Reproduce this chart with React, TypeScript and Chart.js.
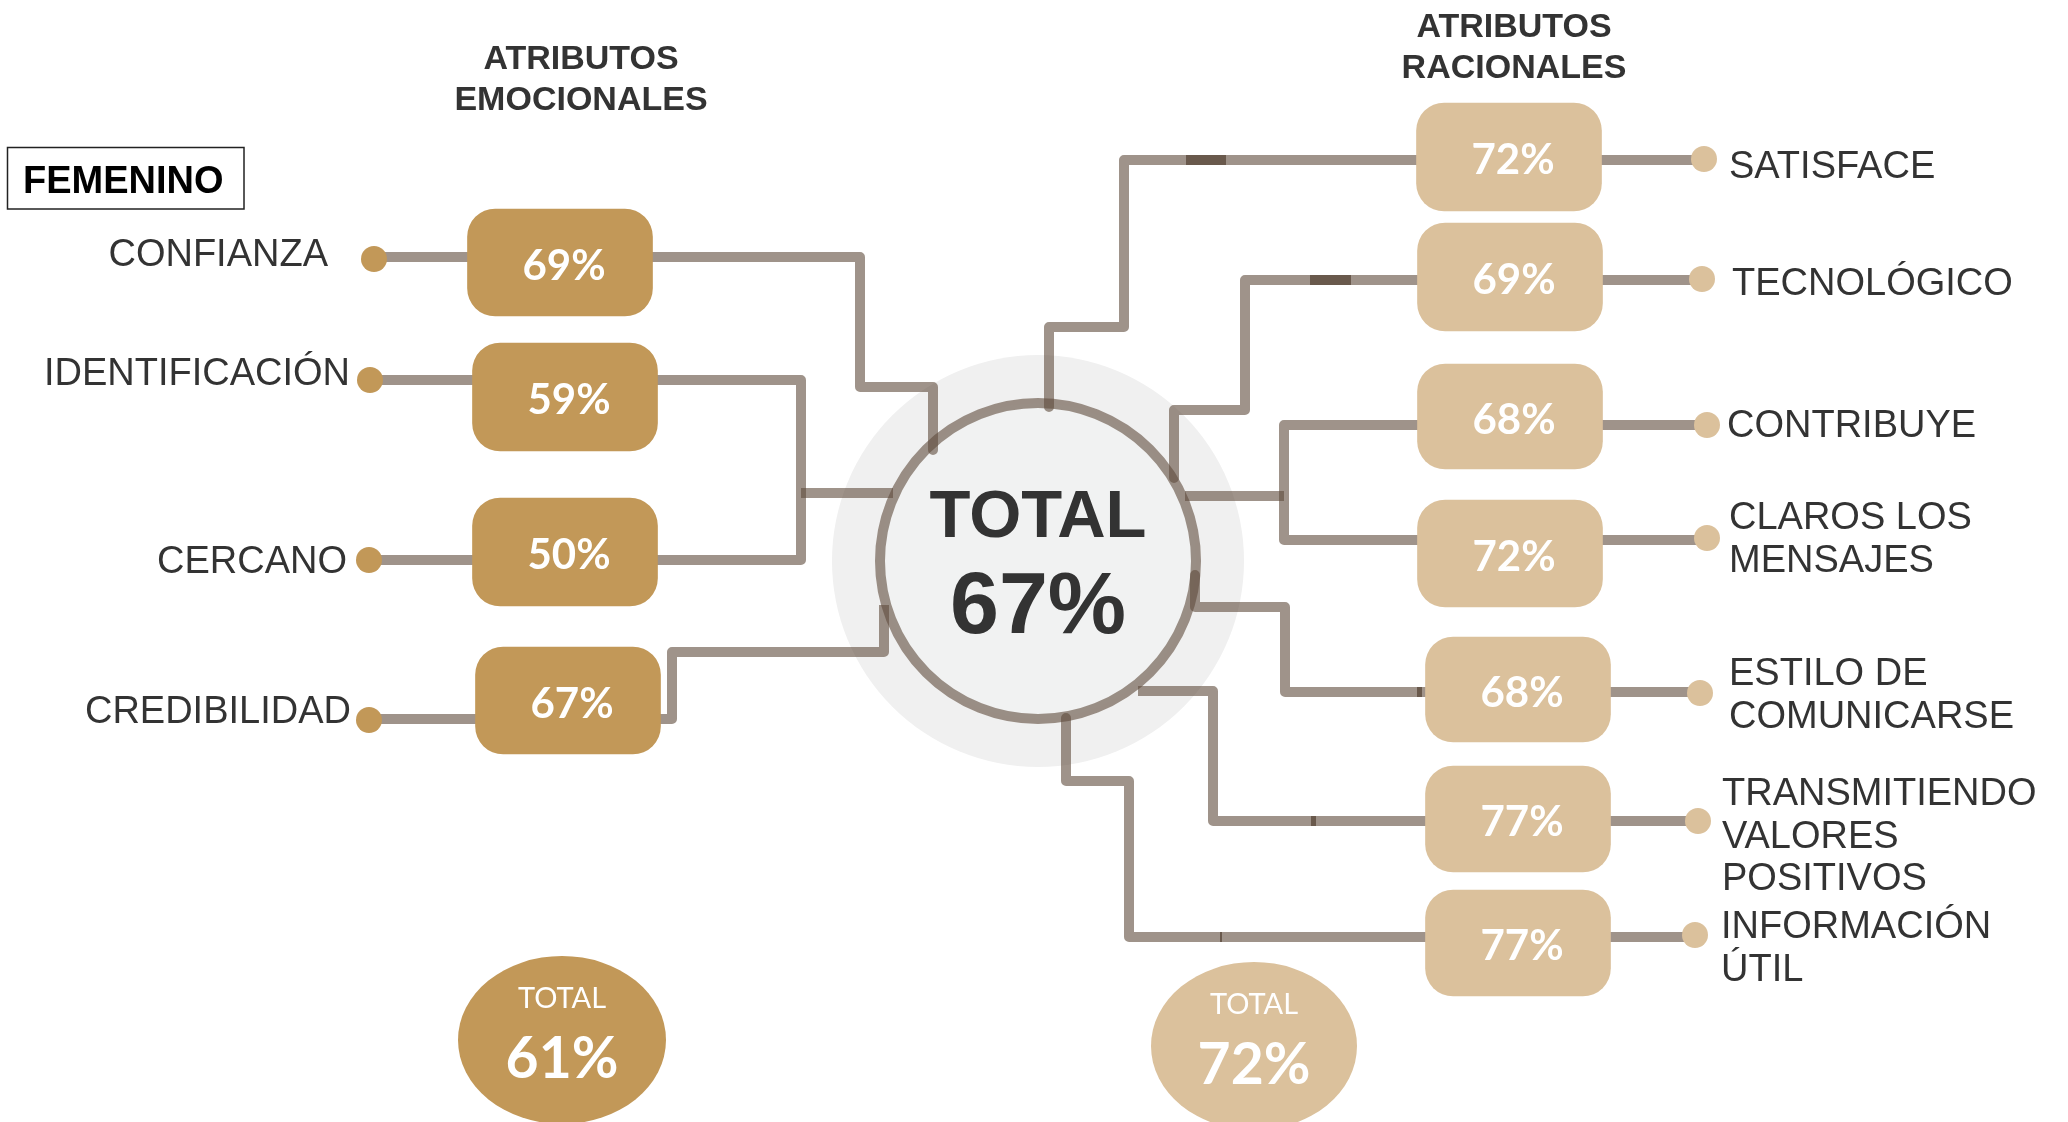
import React, { useEffect, useRef } from 'react';
import { Chart, registerables } from 'chart.js';

Chart.register(...registerables);

// ---------------- DATA ----------------
const segmentLabel = 'FEMENINO';
const emoTitle = ['ATRIBUTOS', 'EMOCIONALES'];
const ratTitle = ['ATRIBUTOS', 'RACIONALES'];
const totalLabel = 'TOTAL';

const emoLabels = [['CONFIANZA'], ['IDENTIFICACIÓN'], ['CERCANO'], ['CREDIBILIDAD']];
const emoValues = [69, 59, 50, 67];

const ratLabels = [
  ['SATISFACE'],
  ['TECNOLÓGICO'],
  ['CONTRIBUYE'],
  ['CLAROS LOS', 'MENSAJES'],
  ['ESTILO DE', 'COMUNICARSE'],
  ['TRANSMITIENDO', 'VALORES', 'POSITIVOS'],
  ['INFORMACIÓN', 'ÚTIL'],
];
const ratValues = [72, 69, 68, 72, 68, 77, 77];

const totalValue = 67;
const emoTotal = 61;
const ratTotal = 72;

// ---------------- LAYOUT (page units) ----------------
const W = 2068;
const H = 1122;

const EMO_COLOR = '#c29858';
const RAT_COLOR = '#dbc19c';
const LINE_COLOR = 'rgba(95,75,60,0.6)';
const PATCH_COLOR = 'rgba(70,50,35,0.6)';
const TEXT_COLOR = '#333333';

// box: centre x, top y, bottom y
const EMO_BOX = [[560, 209, 316], [565, 343, 451], [565, 498, 606], [568, 647, 754]];
const RAT_BOX = [[1509, 103, 211], [1510, 223, 331], [1510, 364, 469], [1510, 500, 607], [1518, 637, 742], [1518, 766, 872], [1518, 890, 996]];
const EMO_DOT = [[374, 259], [370, 380], [369, 560], [369, 720]];
const RAT_DOT = [[1704, 159], [1702, 279], [1707, 425], [1707, 538], [1700, 693], [1698, 821], [1695, 935]];
// label anchor: x (right edge for left side, left edge for right side), first baseline
const EMO_LABEL = [[328, 266], [350, 385], [347, 573], [351, 723]];
const RAT_LABEL = [[1729, 178], [1732, 295], [1727, 437], [1729, 529], [1729, 685], [1722, 805], [1721, 938]];
const LABEL_GAP = 42.5;

const CONNECTORS = [
  [[374, 257], [860, 257], [860, 387], [933, 387], [933, 450]],
  [[370, 380], [801, 380], [801, 560], [369, 560]],
  [[801, 493], [893, 493]],
  [[369, 719], [672, 719], [672, 652], [884, 652], [884, 605]],
  [[1704, 160], [1124, 160], [1124, 327], [1049, 327], [1049, 407]],
  [[1702, 280], [1245, 280], [1245, 410], [1174, 410], [1174, 478]],
  [[1707, 425], [1284, 425], [1284, 540], [1707, 540]],
  [[1185, 496], [1284, 496]],
  [[1195, 575], [1195, 607], [1285, 607], [1285, 692], [1700, 692]],
  [[1138, 691], [1213, 691], [1213, 821], [1698, 821]],
  [[1066, 718], [1066, 781], [1129, 781], [1129, 937], [1695, 937]],
];
const PATCHES = [
  [[1186, 160], [1226, 160]],
  [[1310, 280], [1351, 280]],
  [[1417, 692], [1422, 692]],
  [[1311, 821], [1316, 821]],
  [[1220, 937], [1222, 937]],
];

const CENTER = [1038, 561];
const EMO_ELL = [562, 1040, 104, 84];
const RAT_ELL = [1254, 1046, 103, 84];

const pt = ([x, y]: number[]) => ({ x, y });

const infoPlugin = {
  id: 'infoText',
  afterDatasetsDraw(chart: any) {
    const ctx: CanvasRenderingContext2D = chart.ctx;
    const sx = chart.scales.x;
    const sy = chart.scales.y;
    const X = (v: number) => sx.getPixelForValue(v);
    const Y = (v: number) => sy.getPixelForValue(v);
    ctx.save();

    // bottom total ellipses
    const ell = (e: number[], color: string, value: number) => {
      const cx = X(e[0]);
      const cy = Y(e[1]);
      const rx = Math.abs(X(e[0] + e[2]) - cx);
      const ry = Math.abs(Y(e[1] + e[3]) - cy);
      ctx.beginPath();
      ctx.ellipse(cx, cy, rx, ry, 0, 0, Math.PI * 2);
      ctx.fillStyle = color;
      ctx.fill();
      ctx.fillStyle = '#ffffff';
      ctx.textAlign = 'center';
      ctx.textBaseline = 'alphabetic';
      ctx.font = '29px Lato';
      ctx.fillText(totalLabel, cx, cy - 32);
      ctx.font = 'bold 57px Lato';
      ctx.fillText(value + '%', cx, cy + 38);
    };
    ell(EMO_ELL, EMO_COLOR, emoTotal);
    ell(RAT_ELL, RAT_COLOR, ratTotal);

    // percentages inside boxes (from bar elements)
    const barMeta = chart.getSortedVisibleDatasetMetas().find((m: any) => m.type === 'bar');
    const allValues = [...emoValues, ...ratValues];
    if (barMeta) {
      ctx.fillStyle = '#ffffff';
      ctx.textAlign = 'center';
      ctx.textBaseline = 'alphabetic';
      ctx.font = 'bold 42px Lato';
      barMeta.data.forEach((el: any, i: number) => {
        const cy = (el.y + el.base) / 2;
        ctx.fillText(allValues[i] + '%', el.x + 4, cy + 17);
      });
    }

    // centre total
    ctx.fillStyle = TEXT_COLOR;
    ctx.textAlign = 'center';
    ctx.font = 'bold 67px "Liberation Sans"';
    ctx.fillText(totalLabel, X(CENTER[0]), Y(537));
    ctx.font = 'bold 88px "Liberation Sans"';
    ctx.fillText(totalValue + '%', X(CENTER[0]), Y(633));

    // titles
    ctx.font = 'bold 34px "Liberation Sans"';
    ctx.fillText(emoTitle[0], X(581), Y(69));
    ctx.fillText(emoTitle[1], X(581), Y(110));
    ctx.fillText(ratTitle[0], X(1514), Y(37));
    ctx.fillText(ratTitle[1], X(1514), Y(78));

    // labels
    ctx.font = '38px "Liberation Sans"';
    ctx.textAlign = 'right';
    emoLabels.forEach((lines, i) => {
      lines.forEach((t, j) => ctx.fillText(t, X(EMO_LABEL[i][0]), Y(EMO_LABEL[i][1] + j * LABEL_GAP)));
    });
    ctx.textAlign = 'left';
    ratLabels.forEach((lines, i) => {
      lines.forEach((t, j) => ctx.fillText(t, X(RAT_LABEL[i][0]), Y(RAT_LABEL[i][1] + j * LABEL_GAP)));
    });

    // segment box
    ctx.strokeStyle = '#222222';
    ctx.lineWidth = 1.5;
    ctx.strokeRect(X(7.5), Y(147.5), X(244) - X(7.5), Y(209) - Y(147.5));
    ctx.fillStyle = '#000000';
    ctx.font = 'bold 38px "Liberation Sans"';
    ctx.fillText(segmentLabel, X(23), Y(193));

    ctx.restore();
  },
};

function buildConfig(): any {
  const lineSet = (pts: number[][], color: string, order: number) => ({
    type: 'line',
    data: pts.map(pt),
    borderColor: color,
    borderWidth: 10,
    pointRadius: 0,
    tension: 0,
    fill: false,
    borderJoinStyle: 'round',
    borderCapStyle: 'butt',
    order,
  });

  const boxes = [
    ...EMO_BOX.map((b) => ({ x: b[0], y: [b[1], b[2]] })),
    ...RAT_BOX.map((b) => ({ x: b[0], y: [b[1], b[2]] })),
  ];
  const boxColors = [...EMO_BOX.map(() => EMO_COLOR), ...RAT_BOX.map(() => RAT_COLOR)];
  const dots = [...EMO_DOT.map(pt), ...RAT_DOT.map(pt)];
  const dotColors = [...EMO_DOT.map(() => EMO_COLOR), ...RAT_DOT.map(() => RAT_COLOR)];

  return {
    type: 'scatter',
    data: {
      datasets: [
        { type: 'scatter', data: [pt(CENTER)], pointRadius: 206, backgroundColor: '#f0f0f0', borderWidth: 0, order: 100, clip: false },
        { type: 'scatter', data: [pt(CENTER)], pointRadius: 158, backgroundColor: '#f1f2f2', borderWidth: 0, order: 95, clip: false },
        ...CONNECTORS.map((c) => lineSet(c, LINE_COLOR, 50)),
        ...PATCHES.map((c) => lineSet(c, PATCH_COLOR, 45)),
        { type: 'scatter', data: [pt(CENTER)], pointRadius: 158, backgroundColor: 'rgba(0,0,0,0)', borderColor: LINE_COLOR, borderWidth: 10, order: 40, clip: false },
        {
          type: 'bar',
          data: boxes,
          backgroundColor: boxColors,
          barThickness: 185,
          borderRadius: 28,
          borderSkipped: false,
          borderWidth: 0,
          order: 30,
        },
        { type: 'scatter', data: dots, pointRadius: 13, backgroundColor: dotColors, borderWidth: 0, order: 20 },
      ],
    },
    options: {
      responsive: false,
      animation: false,
      events: [],
      layout: { padding: 0, autoPadding: false },
      plugins: { legend: { display: false }, tooltip: { enabled: false }, title: { display: false } },
      scales: {
        x: { type: 'linear', min: 0, max: W, display: false, offset: false },
        y: { type: 'linear', min: 0, max: H, reverse: true, display: false, offset: false },
      },
    },
    plugins: [infoPlugin],
  };
}

export default function App() {
  const ref = useRef<HTMLCanvasElement>(null);
  useEffect(() => {
    document.body.style.margin = '0';
    document.body.style.overflow = 'hidden';
    const canvas = ref.current;
    if (!canvas) return;
    const chart = new Chart(canvas, buildConfig());
    const fonts: any = (document as any).fonts;
    if (fonts && fonts.load) {
      Promise.all([
        fonts.load('bold 42px Lato'),
        fonts.load('29px Lato'),
        fonts.load('38px "Liberation Sans"'),
        fonts.load('bold 38px "Liberation Sans"'),
      ]).then(() => chart.draw()).catch(() => {});
    }
    return () => chart.destroy();
  }, []);
  return (
    <div style={{ width: W, height: H }}>
      <canvas ref={ref} width={W} height={H} style={{ display: 'block', width: W, height: H }} />
    </div>
  );
}
